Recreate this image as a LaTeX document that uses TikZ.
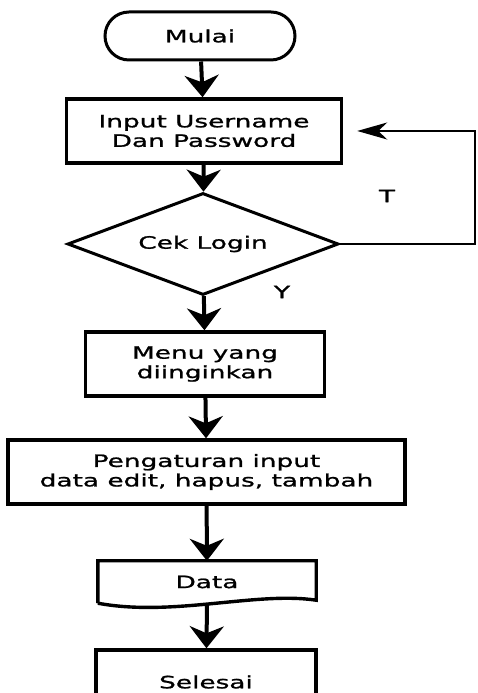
\documentclass[tikz,border=0pt]{standalone}
\usepackage{fontspec}
\newfontfamily\alurfont[FakeStretch=1.55,FakeBold=1.2]{DejaVu Sans}
\usetikzlibrary{arrows.meta,shapes.geometric}
\begin{document}
\begin{tikzpicture}[x=1pt,y=1pt,
		font=\alurfont\fontsize{17}{19.5}\selectfont,
		garis/.style={line width=3.4pt},
		terminal/.style={draw,line width=3pt,rounded corners=24pt,minimum width=190pt,minimum height=48pt,inner sep=0},
		proses/.style={draw,garis,minimum height=64pt,inner sep=0,align=center},
		keputusan/.style={draw,diamond,line width=3pt,minimum width=271pt,minimum height=102pt,inner sep=0,aspect=2.6},
		dokumen/.style={minimum width=218pt,minimum height=42pt,inner sep=0},
		panah/.style={-{Stealth[length=22pt,width=34pt,inset=7pt]},line width=4pt},
		balik/.style={-{Stealth[length=30pt,width=17pt,inset=9pt]},line width=2.2pt}]
			\useasboundingbox (0,0) rectangle (477,693);
			\node[terminal] (mulai) at (200,657) {Mulai};
			\node[proses,minimum width=275pt] (input) at (204,562) {Input Username\\ Dan Password};
			\node[keputusan] (cek) at (203,449) {Cek Login};
			\node[proses,minimum width=239pt] (menu) at (205,329) {Menu yang\\diinginkan};
			\node[proses,minimum width=397pt] (atur) at (206.5,221) {Pengaturan input\\data edit, hapus, tambah};
			\node[dokumen] (data) at (207,111) {Data};
			\draw[garis] (data.south west) -- (data.north west) -- (data.north east) -- ([yshift=3pt]data.south east)
				.. controls +(-60,9) and +(75,-14) .. (data.south west);
			\node[proses,minimum width=220pt] (selesai) at (206,11) {Selesai};
			\coordinate (kanan) at (475,449);
			\draw[panah] (mulai) -- (input);
			\draw[panah] (input) -- (cek);
			\draw[panah] (cek) -- (menu);
			\draw[panah] (menu) -- (atur);
			\draw[panah] (atur) -- (data);
			\draw[panah] ([yshift=-2pt]data.south) -- (selesai);
			\draw[balik,shorten >=14pt] (cek.east) -- (kanan) |- (input.east);
			\node (t) at (387,497) {T};
			\node (y) at (282,401) {Y};
		\end{tikzpicture}
\end{document}
